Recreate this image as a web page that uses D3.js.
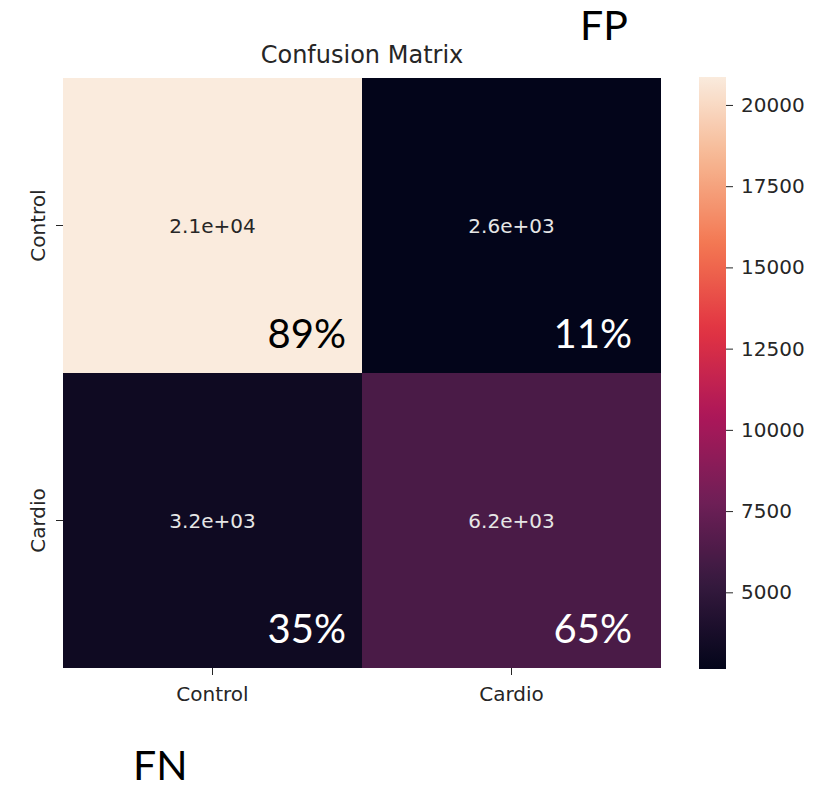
<!DOCTYPE html>
<html>
<head>
<meta charset="utf-8">
<script src="https://cdn.jsdelivr.net/npm/d3@7"></script>
<style>
	body { margin: 0; background: #fff; }
	svg text { font-family: "DejaVu Sans", sans-serif; }
</style>
</head>
<body>
<div class="js-graph"></div>
<script>
	// data
	var labels = ['Control', 'Cardio'];
	var counts = [
		[20860, 2640],
		[3245, 6150]
	];
	var colorMin = 2640, colorMax = 20860;
	var colorTicks = [5000, 7500, 10000, 12500, 15000, 17500, 20000];
	var title = 'Confusion Matrix';
	var notes = [{ text: 'FP', x: 580, y: 40 }, { text: 'FN', x: 133, y: 780 }];

	// seaborn "rocket" colour stops
	var rocket = ['#03051a', '#35193e', '#701f57', '#ad1759', '#e13342', '#f37651', '#f6b48f', '#faebdd'];

	var w = 821, h = 788,
		svg = d3.select('.js-graph').append('svg').attr('width', w).attr('height', h);

	var x = d3.scaleBand().domain(labels).range([63, 661]),
		y = d3.scaleBand().domain(labels).range([78, 668]),
		color = d3.scaleSequential(d3.piecewise(d3.interpolateRgb, rocket)).domain([colorMin, colorMax]);

	var cells = [];
	counts.forEach(function(row, i) {
		var total = d3.sum(row);
		row.forEach(function(v, j) {
			cells.push({ actual: labels[i], pred: labels[j], col: j, value: v, pct: Math.round(v / total * 100) });
		});
	});

	function sci(v) {
		var s = d3.format('.1e')(v).split('e');
		var e = +s[1];
		return s[0] + 'e' + (e < 0 ? '-' : '+') + (Math.abs(e) < 10 ? '0' : '') + Math.abs(e);
	}
	function isLight(v) { return d3.hsl(color(v)).l > 0.5; }

	svg.selectAll('rect.cell')
		.data(cells)
		.enter()
		.append('rect')
		.attr('class', 'cell')
		.attr('x', function(d) { return x(d.pred); })
		.attr('y', function(d) { return y(d.actual); })
		.attr('width', x.bandwidth())
		.attr('height', y.bandwidth())
		.attr('fill', function(d) { return color(d.value); });

	svg.selectAll('text.annot')
		.data(cells)
		.enter()
		.append('text')
		.attr('class', 'annot')
		.attr('x', function(d) { return x(d.pred) + x.bandwidth() / 2; })
		.attr('y', function(d) { return y(d.actual) + y.bandwidth() / 2 + 7; })
		.attr('text-anchor', 'middle')
		.style('font-size', '20px')
		.attr('fill', function(d) { return isLight(d.value) ? '#262626' : '#e6e6e6'; })
		.text(function(d) { return sci(d.value); });

	// percentage labels added on top, bottom-right of each cell
	var padRight = [16, 29];
	svg.selectAll('text.pct')
		.data(cells)
		.enter()
		.append('text')
		.attr('class', 'pct')
		.attr('x', function(d) { return x(d.pred) + x.bandwidth() - padRight[d.col]; })
		.attr('y', function(d) { return y(d.actual) + y.bandwidth() - 25; })
		.attr('text-anchor', 'end')
		.style('font-family', 'Lato, sans-serif')
		.style('font-size', '40px')
		.attr('fill', function(d) { return isLight(d.value) ? '#000' : '#fff'; })
		.text(function(d) { return d.pct + '%'; });

	// axes
	var xAxis = svg.append('g')
		.attr('transform', 'translate(0,668)')
		.call(d3.axisBottom(x).tickSize(7).tickPadding(6));
	xAxis.select('.domain').remove();
	xAxis.selectAll('text').style('font-size', '20px').attr('fill', '#262626').attr('dy', '1em');
	xAxis.selectAll('line').attr('stroke', '#262626');

	var yAxis = svg.append('g')
		.attr('transform', 'translate(63,0)')
		.call(d3.axisLeft(y).tickSize(7).tickPadding(0));
	yAxis.select('.domain').remove();
	yAxis.selectAll('line').attr('stroke', '#262626');
	yAxis.selectAll('text')
		.style('font-size', '20px')
		.attr('fill', '#262626')
		.attr('x', null).attr('dy', null)
		.attr('text-anchor', 'middle')
		.attr('transform', 'translate(-18,0) rotate(-90)');

	// colorbar
	var cb = d3.scaleLinear().domain([colorMin, colorMax]).range([669, 77]);
	var grad = svg.append('defs').append('linearGradient')
		.attr('id', 'cbar').attr('x1', 0).attr('y1', 1).attr('x2', 0).attr('y2', 0);
	grad.selectAll('stop')
		.data(d3.range(0, 1.0001, 0.02))
		.enter()
		.append('stop')
		.attr('offset', function(t) { return t; })
		.attr('stop-color', function(t) { return color(colorMin + t * (colorMax - colorMin)); });
	svg.append('rect')
		.attr('x', 699).attr('y', cb(colorMax))
		.attr('width', 27).attr('height', cb(colorMin) - cb(colorMax))
		.attr('fill', 'url(#cbar)');
	var cAxis = svg.append('g')
		.attr('transform', 'translate(726,0)')
		.call(d3.axisRight(cb).tickValues(colorTicks).tickSize(7).tickPadding(8).tickFormat(d3.format('d')));
	cAxis.select('.domain').remove();
	cAxis.selectAll('line').attr('stroke', '#262626');
	cAxis.selectAll('text').style('font-size', '20px').attr('fill', '#262626');

	svg.append('text')
		.attr('x', (63 + 661) / 2).attr('y', 63)
		.attr('text-anchor', 'middle')
		.style('font-size', '24px')
		.attr('fill', '#262626')
		.text(title);

	svg.selectAll('text.note')
		.data(notes)
		.enter()
		.append('text')
		.attr('class', 'note')
		.attr('x', function(d) { return d.x; })
		.attr('y', function(d) { return d.y; })
		.style('font-family', 'Lato, sans-serif')
		.style('font-size', '41px')
		.attr('fill', '#000')
		.text(function(d) { return d.text; });
</script>
</body>
</html>
